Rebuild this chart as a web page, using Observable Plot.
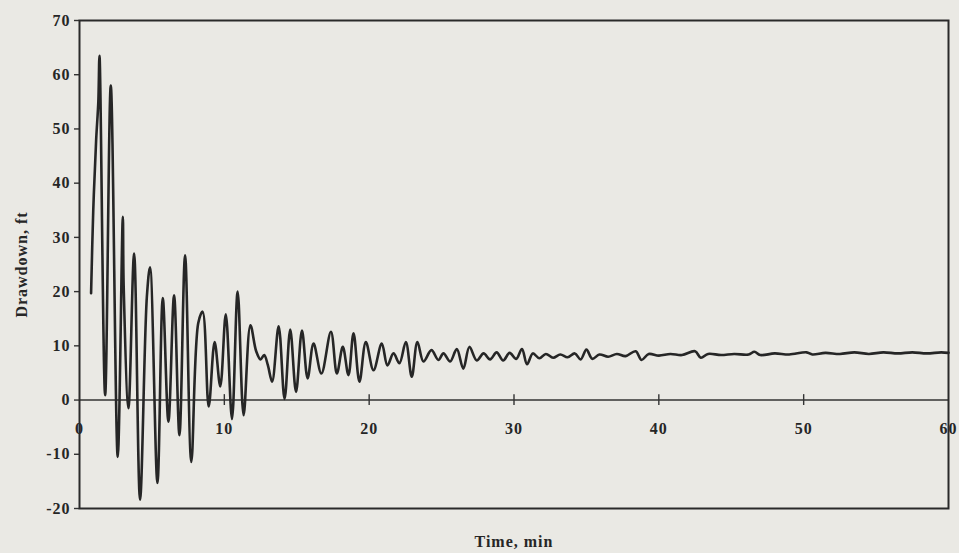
<!DOCTYPE html>
<html>
<head>
<meta charset="utf-8">
<script src="https://cdn.jsdelivr.net/npm/d3@7"></script>
<script src="https://cdn.jsdelivr.net/npm/@observablehq/plot@0.6"></script>
<style>
  html, body { margin: 0; padding: 0; background: #eae9e4; }
  #chart { width: 959px; height: 553px; }
</style>
</head>
<body>
<div id="chart"></div>
<script>
// Time (min) and drawdown (ft)
const timeMin = [
  0.8, 0.95, 1.15, 1.3, 1.38, 1.77, 2.16, 2.64, 2.99, 3.05, 3.38, 3.77, 4.18, 4.65, 4.87,
  5.38, 5.75, 6.14, 6.53, 6.9, 7.29, 7.72, 8.2, 8.5, 8.92, 9.33, 9.72, 10.1, 10.53, 10.92,
  11.33, 11.8, 12.2, 12.5, 12.75, 13.0, 13.3, 13.75, 14.16, 14.55, 14.95, 15.36, 15.75, 16.16,
  16.7, 17.36, 17.77, 18.18, 18.57, 18.92, 19.33, 19.77, 20.3, 20.87, 21.26, 21.68, 22.09,
  22.53, 22.94, 23.33, 23.75, 24.3, 24.78, 25.13, 25.59, 26.05, 26.5, 26.92, 27.43, 27.9,
  28.35, 28.8, 29.25, 29.7, 30.15, 30.55, 30.9, 31.3, 31.75, 32.2, 32.7, 33.2, 33.7, 34.2,
  34.6, 35.0, 35.4, 35.9, 36.5, 37.1, 37.7, 38.4, 38.8, 39.3, 40.0, 40.8, 41.6, 42.5, 42.9,
  43.4, 44.3, 45.2, 46.2, 46.6, 47.0, 48.0, 49.0, 50.2, 50.6, 51.5, 52.5, 53.5, 54.5, 55.5,
  56.5, 57.5, 58.5, 59.5, 60.0
];
const drawdownFt = [
  19.7, 35, 48, 55, 63.5, 0.9, 58, -10.5, 33.8, 21, -1.5, 27, -18.4, 19, 24.5,
  -15.3, 18.8, -4, 19.3, -6.5, 26.7, -11.4, 14.2, 16.3, -1.2, 10.7, 2.5, 15.8, -3.5, 20,
  -2.8, 13.8, 9, 7.5, 8.3, 6.5, 3.4, 13.6, 0.2, 13.0, 1.5, 12.8, 4.0, 10.4,
  4.9, 12.6, 4.9, 9.8, 4.6, 12.3, 3.4, 10.7, 5.5, 10.4, 6.4, 8.6, 6.8,
  10.7, 4.3, 10.7, 7.1, 9.2, 7.4, 8.6, 7.1, 9.4, 5.8, 9.8, 7.3, 8.6,
  7.5, 8.8, 7.3, 8.7, 7.6, 9.4, 6.6, 8.6, 7.7, 8.5, 7.8, 8.4, 7.9, 8.6,
  7.5, 9.3, 7.6, 8.4, 8.0, 8.5, 8.1, 9.0, 7.4, 8.5, 8.2, 8.5, 8.3, 9.0, 7.8,
  8.5, 8.3, 8.5, 8.4, 8.9, 8.3, 8.6, 8.4, 8.8, 8.4, 8.7, 8.5, 8.8, 8.5, 8.8,
  8.6, 8.8, 8.6, 8.8, 8.7
];
const yTicks = [-20, -10, 0, 10, 20, 30, 40, 50, 60, 70];
const xTickLabels = [0, 10, 20, 30, 40, 50, 60];
const xTickMarks = [10, 20, 30, 40, 50];
const xTitle = "Time, min";
const yTitle = "Drawdown, ft";

const series = timeMin.map((t, i) => ({t, v: drawdownFt[i]}));
const ink = "#262626";

const chart = Plot.plot({
  width: 959,
  height: 553,
  marginLeft: 79,
  marginRight: 11,
  marginTop: 20,
  marginBottom: 45,
  style: {background: "transparent", fontFamily: "'Liberation Serif', serif", color: ink, letterSpacing: "1px"},
  x: {domain: [0, 60]},
  y: {domain: [-20, 70]},
  marks: [
    Plot.ruleY([0], {stroke: "#333", strokeWidth: 1.6}),
    Plot.ruleX(xTickMarks, {x: d => d, y1: -1, y2: 1, stroke: "#333", strokeWidth: 1.4}),
    Plot.text(xTickLabels, {x: d => d, y: 0, dy: 29, text: d => String(d), fontSize: 16, fontWeight: "bold", fill: ink}),
    Plot.axisY(yTicks, {tickSize: 5, tickPadding: 4, fontSize: 16, fontWeight: "bold", stroke: "#333", strokeWidth: 1.4,
      tickFormat: d => String(d),
      label: yTitle, labelAnchor: "center", labelOffset: 64, labelArrow: "none"}),
    Plot.axisX({ticks: [], label: xTitle, labelAnchor: "center", labelOffset: 38, fontSize: 16, fontWeight: "bold", labelArrow: "none"}),
    Plot.frame({stroke: "#2a2a2a", strokeWidth: 2}),
    Plot.line(series, {x: "t", y: "v", stroke: ink, strokeWidth: 2.6, curve: "catmull-rom"})
  ]
});
document.getElementById("chart").appendChild(chart);
</script>
</body>
</html>
